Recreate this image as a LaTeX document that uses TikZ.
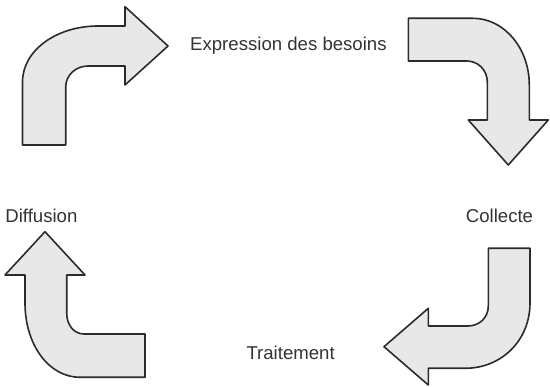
\documentclass[tikz,border=0pt]{standalone}
\usepackage{fontspec}
\setmainfont{Liberation Sans}
\definecolor{fondfleche}{HTML}{E8E8E8}
\definecolor{traitfleche}{HTML}{2B2B2B}
\definecolor{texte}{HTML}{333333}
\begin{document}
\begin{tikzpicture}[x=1pt, y=-1pt, line join=round,
    fleche/.style={fill=fondfleche, draw=traitfleche, line width=1.6pt},
    etiquette/.style={inner sep=0pt, anchor=base west, text=texte, font=\fontsize{18.6}{22}\selectfont}]
                \useasboundingbox (0,0) rectangle (550,387);
                \draw[fleche] (22.5,145) -- (22.5,82) .. controls (22.5,50) and (57,26) .. (98,26) -- (125,26) -- (125,6.7) -- (168,46) -- (125,85) -- (125,66) -- (88,66) .. controls (76,66) and (65.7,75) .. (65.7,87) -- (65.7,145) -- cycle;
                \draw[fleche] (408.3,18.3) -- (473,18.3) .. controls (504,18.3) and (529.3,48) .. (529.3,85) -- (529.3,120) -- (548.3,120) -- (508.3,165) -- (468.3,120) -- (487.3,120) -- (487.3,82) .. controls (487.3,70) and (478,61) .. (466.7,61) -- (408.3,61) -- cycle;
                \draw[fleche] (488.3,248.3) -- (530,248.3) -- (530,303) .. controls (530,340) and (502,368.3) .. (465,368.3) -- (428.3,368.3) -- (428.3,385) -- (384,346.7) -- (428.3,308.3) -- (428.3,326) -- (468,326) .. controls (479,326) and (488.3,318) .. (488.3,306) -- cycle;
                \draw[fleche] (145,334) -- (145,377.3) -- (80,377.3) .. controls (49,377.3) and (25,345) .. (25,303) -- (25,275) -- (5,275) -- (45,231.7) -- (85,275) -- (66.7,275) -- (66.7,313) .. controls (66.7,325) and (74,334) .. (84,334) -- cycle;
                \node[etiquette] (besoins) at (190,51) {Expression des besoins};
                \node[etiquette] (collecte) at (465.7,222.3) {Collecte};
                \node[etiquette] (traitement) at (246.3,360) {Traitement};
                \node[etiquette] (diffusion) at (5.2,222.3) {Diffusion};
            \end{tikzpicture}
\end{document}
